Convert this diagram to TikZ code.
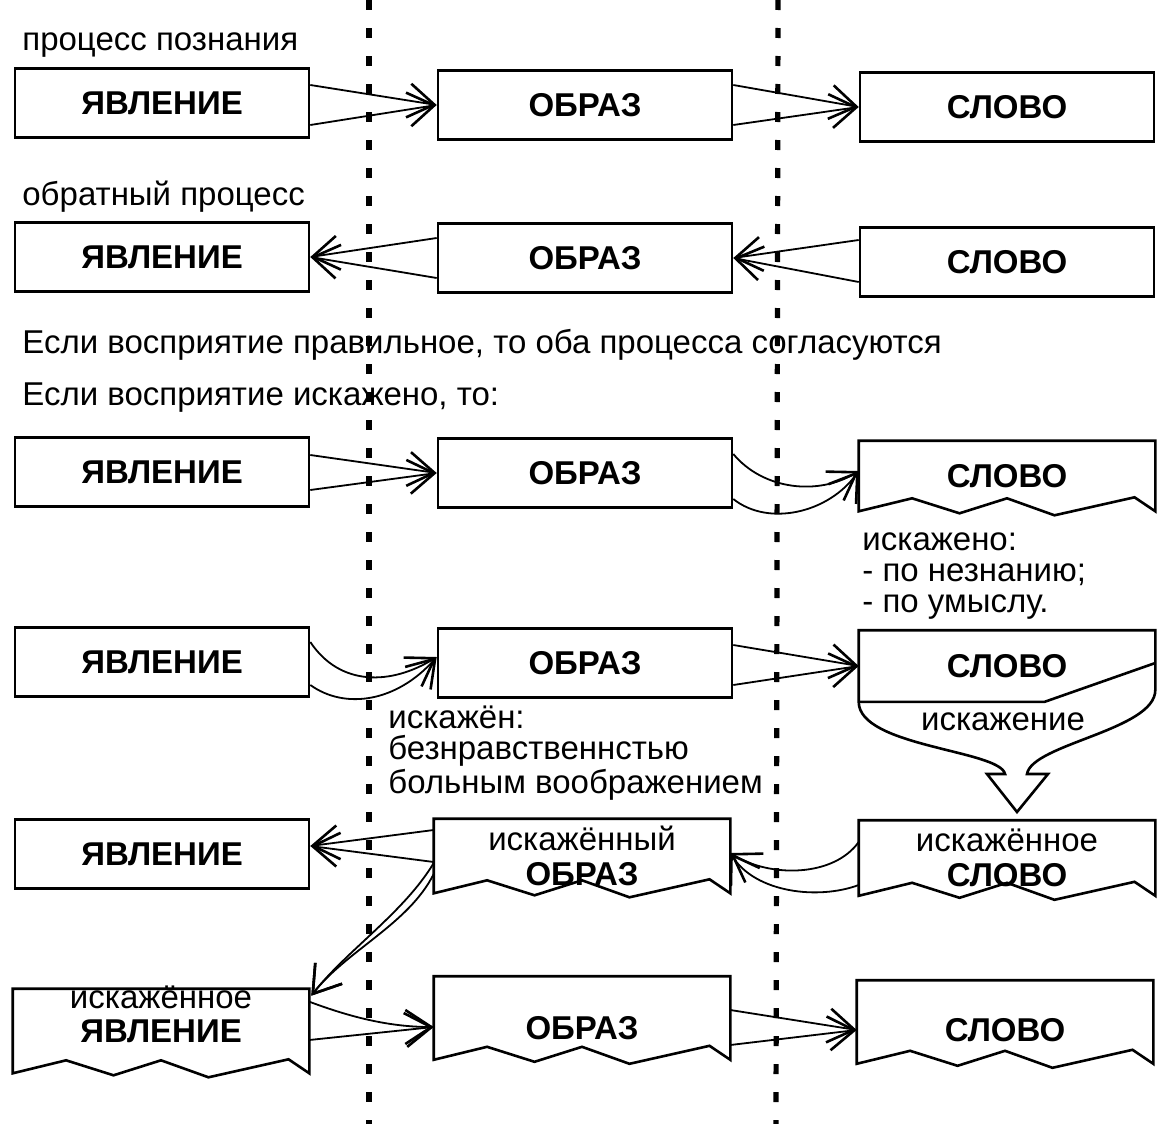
\documentclass[tikz,border=0pt]{standalone}
\usepackage{fontspec}
\setmainfont{Liberation Sans}
\usetikzlibrary{arrows.meta,calc}
% bottom edge of a distorted box drawn as a zigzag
\newcommand{\zigbox}[1]{%
  \draw[boxline] (#1.south west) -- (#1.north west) -- (#1.north east) -- (#1.south east)
    -- ($(#1.south west)!0.93!(#1.south east)+(0,-14)$)
    -- ($(#1.south west)!0.66!(#1.south east)+(0,4)$)
    -- ($(#1.south west)!0.50!(#1.south east)+(0,-13)$)
    -- ($(#1.south west)!0.34!(#1.south east)+(0,2)$)
    -- ($(#1.south west)!0.18!(#1.south east)+(0,-13)$)
    -- cycle;}
% two converging lines from one box to another
\newcommand{\pairto}[4]{%
  \draw[wedge] ($(#1)+(0,#2)$) -- (#4);
  \draw[wedge] ($(#1)+(0,#3)$) -- (#4);}

\begin{document}
\begin{tikzpicture}[x=0.5pt,y=-0.5pt,
    every node/.style={font=\fontsize{16.5}{15.5}\selectfont},
    box/.style={draw,line width=1.3pt,minimum width=147pt,minimum height=34.5pt,inner sep=0pt,
      font=\fontsize{16.5}{17.5}\selectfont\bfseries,align=center},
    zbox/.style={box,draw=none},
    boxline/.style={line width=1.3pt,line join=miter},
    note/.style={anchor=base west,align=left,inner sep=0pt},
    wedge/.style={line width=0.9pt,-{Straight Barb[length=13pt,width=17pt,line width=1.3pt]}},
    dotline/.style={line width=2.6pt,dash pattern=on 5pt off 9pt}]
  \useasboundingbox (0,0) rectangle (1163,1124);
  % dotted separators
  \coordinate (d1t) at (369,0);  \coordinate (d1b) at (369,1124);
  \coordinate (d2t) at (778,0);  \coordinate (d2b) at (776,1124);
  \draw[dotline] (d1t) -- (d1b);
  \draw[dotline] (d2t) -- (d2b);
  % headings
  \node[note] (t1) at (22,50) {процесс познания};
  \node[note] (t2) at (22,205) {обратный процесс};
  \node[note] (t3) at (22,353) {Если восприятие правильное, то оба процесса согласуются};
  \node[note] (t4) at (22,405) {Если восприятие искажено, то:};
  % row 1
  \node[box] (yv1) at (162,103) {ЯВЛЕНИЕ};
  \node[box] (ob1) at (585,105) {ОБРАЗ};
  \node[box] (sl1) at (1007,107) {СЛОВО};
  \pairto{yv1.east}{-18}{22}{ob1.west}
  \pairto{ob1.east}{-20}{20}{sl1.west}
  % row 2
  \node[box] (yv2) at (162,257) {ЯВЛЕНИЕ};
  \node[box] (ob2) at (585,258) {ОБРАЗ};
  \node[box] (sl2) at (1007,262) {СЛОВО};
  \pairto{ob2.west}{-20}{20}{yv2.east}
  \pairto{sl2.west}{-22}{20}{ob2.east}
  % row 3
  \node[box] (yv3) at (162,472) {ЯВЛЕНИЕ};
  \node[box] (ob3) at (585,473) {ОБРАЗ};
  \node[zbox,minimum height=34pt] (sl3) at (1007,476) {СЛОВО};
  \zigbox{sl3}
  \pairto{yv3.east}{-17}{18}{ob3.west}
  \draw[wedge] ($(ob3.east)+(0,-19)$) .. controls +(30,36) and +(-40,25) .. ($(sl3.west)+(0,-5)$);
  \draw[wedge] ($(ob3.east)+(0,26)$) .. controls +(35,28) and +(-30,42) .. ($(sl3.west)+(0,-5)$);
  \node[note] (t5) at (862,612) {искажено:\\- по незнанию;\\- по умыслу.};
  % row 4
  \node[box] (yv4) at (162,662) {ЯВЛЕНИЕ};
  \node[box] (ob4) at (585,663) {ОБРАЗ};
  \node[zbox] (sl4) at (1007,666) {СЛОВО};
  \draw[boxline] (sl4.south west) -- (sl4.north west) -- (sl4.north east) -- ($(sl4.east)+(0,24)$)
    .. controls +(0,40) and +(5,-30) .. (1027,774) -- (1048,774) -- (1017,812) -- (987,774) -- (1005,774)
    .. controls +(-5,-24) and +(0,45) .. (sl4.south west);
  \draw[boxline] (sl4.south west) -- ($(sl4.south west)+(186,0)$) -- ($(sl4.east)+(0,-3)$);
  \node (t7) at (1003,722) {искажение};
  \draw[wedge] ($(yv4.east)+(0,-20)$) .. controls +(30,45) and +(-45,28) .. ($(ob4.west)+(0,-6)$);
  \draw[wedge] ($(yv4.east)+(0,23)$) .. controls +(35,25) and +(-40,45) .. ($(ob4.west)+(0,-6)$);
  \pairto{ob4.east}{-18}{22}{sl4.west}
  \node[note] (t6) at (388,793) {искажён:\\безнравственнстью\\больным воображением};
  % row 5
  \node[box] (yv5) at (162,854) {ЯВЛЕНИЕ};
  \node[zbox,minimum height=36pt] (ob5) at (582,856) {{\mdseries искажённый}\\ОБРАЗ};
  \zigbox{ob5}
  \node[zbox,minimum height=36.5pt] (sl5) at (1007,858) {{\mdseries искажённое}\\СЛОВО};
  \zigbox{sl5}
  \pairto{ob5.west}{-26}{6}{$(yv5.east)+(0,-8)$}
  \draw[wedge] ($(sl5.west)+(0,-16)$) .. controls +(-25,35) and +(40,25) .. ($(ob5.east)+(0,-3)$);
  \draw[wedge] ($(sl5.west)+(0,27)$) .. controls +(-40,15) and +(25,40) .. ($(ob5.east)+(0,-3)$);
  % row 6
  \node[zbox,minimum height=41pt] (yv6) at (161,1031) {ЯВЛЕНИЕ};
  \zigbox{yv6}
  \node (yv6l) at (161,997) {искажённое};
  \node[zbox,minimum height=40.5pt,text height=21pt,text depth=0pt] (ob6) at (582,1018) {ОБРАЗ};
  \zigbox{ob6}
  \node[zbox,minimum height=40.5pt,text height=19pt,text depth=0pt] (sl6) at (1005,1022) {СЛОВО};
  \zigbox{sl6}
  \draw[wedge] ($(ob5.west)+(0,7)$) .. controls +(-30,50) and +(35,-45) .. ($(yv6.north east)+(2,7)$);
  \draw[wedge] ($(ob5.west)+(0,18)$) .. controls +(-25,50) and +(35,-45) .. ($(yv6.north east)+(2,7)$);
  \draw[wedge] ($(yv6.north east)+(0,13)$) .. controls +(40,15) and +(-45,0) .. ($(ob6.west)+(0,9)$);
  \draw[wedge] ($(yv6.east)+(0,9)$) -- ($(ob6.west)+(0,9)$);
  \pairto{ob6.east}{-8}{27}{$(sl6.west)+(0,8)$}
\end{tikzpicture}
\end{document}
